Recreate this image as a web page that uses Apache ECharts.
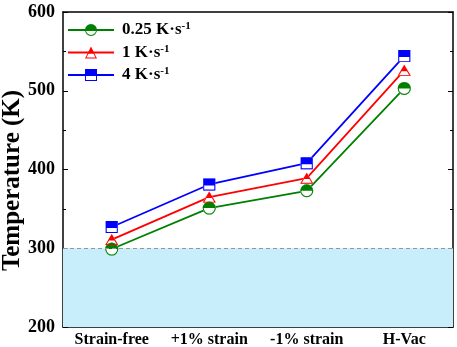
<!DOCTYPE html>
<html>
<head>
<meta charset="utf-8">
<script src="https://cdn.jsdelivr.net/npm/echarts@6/dist/echarts.min.js"></script>
<style>
  html, body { margin: 0; padding: 0; background: #fff; }
  #chart { width: 457px; height: 347px; }
</style>
</head>
<body>
<div id="chart"></div>
<script>
var categories = ['Strain-free', '+1% strain', '-1% strain', 'H-Vac'];
var seriesNames = ['0.25 K·s', '1 K·s', '4 K·s'];
var tempSlow = [299, 351, 373, 503];
var tempMid = [311, 365, 389, 526];
var tempFast = [327, 381, 408, 544];
var yTicks = [200, 300, 400, 500, 600];
var shadeRange = [200, 300];

var colors = ['#008000', '#ff0000', '#0000ff'];

// half filled symbols: top half solid, bottom half as an outline
var halfCircle = 'path://M0,10 A10,10 0 0 1 20,10 Z M20,10 A10,10 0 0 1 0,10 L1.6,10 A8.4,8.4 0 0 0 18.4,10 Z';
var halfTriangle = 'path://M10,0 L15,10 L5,10 Z M5,10 L15,10 L20,20 L0,20 Z M5.9,11.6 L2.5,18.4 L17.5,18.4 L14.1,11.6 Z';
var halfSquare = 'path://M0,0 L20,0 L20,10 L0,10 Z M0,10 L20,10 L20,20 L0,20 Z M1.6,11.6 L1.6,18.4 L18.4,18.4 L18.4,11.6 Z';
var halfSymbols = [halfCircle, halfTriangle, halfSquare];
var fullSymbols = ['circle', 'path://M10,0 L20,20 L0,20 Z', 'rect'];
var symbolSizes = [[13, 13], [13, 11], [12, 12]];
var allData = [tempSlow, tempMid, tempFast];

var chart = echarts.init(document.getElementById('chart'));

var series = [];
for (var i = 0; i < 3; i++) {
  var s = {
    name: seriesNames[i],
    type: 'line',
    data: allData[i],
    symbol: halfSymbols[i],
    symbolSize: symbolSizes[i],
    itemStyle: { color: colors[i], borderWidth: 0 },
    lineStyle: { color: colors[i], width: 1.8 },
    z: 2
  };
  if (i == 0) {
    s.markArea = {
      silent: true,
      itemStyle: { color: '#c8edfb' },
      data: [[{ yAxis: shadeRange[0] }, { yAxis: shadeRange[1] }]]
    };
    s.markLine = {
      silent: true,
      symbol: 'none',
      label: { show: false },
      lineStyle: { color: '#8c9aa0', type: [4, 3], width: 1 },
      data: [{ yAxis: shadeRange[1] }]
    };
  }
  series.push(s);
}
// white fill underneath the markers
for (var i = 0; i < 3; i++) {
  series.push({
    name: 'bg' + i,
    type: 'line',
    data: allData[i],
    symbol: fullSymbols[i],
    symbolSize: symbolSizes[i],
    itemStyle: { color: '#ffffff', borderWidth: 0 },
    lineStyle: { opacity: 0 },
    silent: true,
    z: 3
  });
}
// markers on top
for (var i = 0; i < 3; i++) {
  series.push({
    name: 'mk' + i,
    type: 'line',
    data: allData[i],
    symbol: halfSymbols[i],
    symbolSize: symbolSizes[i],
    itemStyle: { color: colors[i], borderWidth: 0 },
    lineStyle: { opacity: 0 },
    silent: true,
    z: 4
  });
}

var serif = 'Liberation Serif';

chart.setOption({
  animation: false,
  grid: { left: 63, right: 4, top: 12, bottom: 20, outerBoundsMode: 'none', containLabel: false },
  legend: {
    data: seriesNames,
    orient: 'vertical',
    left: 62,
    top: 16,
    itemWidth: 46,
    itemHeight: 15,
    itemGap: 5,
    formatter: function (name) {
      return '{a|' + name + '}{sup|-1}';
    },
    textStyle: {
      padding: [0, 0, 0, 3],
      rich: {
        a: { fontFamily: serif, fontWeight: 'bold', fontSize: 17, color: '#000' },
        sup: { fontFamily: serif, fontWeight: 'bold', fontSize: 11, color: '#000', verticalAlign: 'bottom', padding: [0, 0, 7, 0] }
      }
    }
  },
  xAxis: [{
    type: 'category',
    data: categories,
    boundaryGap: true,
    axisLine: { lineStyle: { color: '#000', width: 1.5 } },
    axisTick: { inside: true, alignWithLabel: true, length: 5, lineStyle: { color: '#000' } },
    axisLabel: { interval: 0, hideOverlap: false, color: '#000', fontFamily: serif, fontWeight: 'bold', fontSize: 16, margin: 5 },
    splitLine: { show: false }
  }, {
    type: 'category',
    data: categories,
    position: 'top',
    boundaryGap: true,
    axisLine: { lineStyle: { color: '#000', width: 1.5 } },
    axisTick: { inside: true, alignWithLabel: true, length: 5, lineStyle: { color: '#000' } },
    axisLabel: { show: false },
    splitLine: { show: false }
  }],
  yAxis: [{
    type: 'value',
    min: yTicks[0],
    max: yTicks[yTicks.length - 1],
    interval: 100,
    name: 'Temperature (K)',
    nameLocation: 'middle',
    nameGap: 38,
    nameMoveOverlap: false,
    nameTextStyle: { color: '#000', fontFamily: serif, fontWeight: 'bold', fontSize: 25, padding: [0, 22, 0, 0] },
    axisLine: { show: true, lineStyle: { color: '#000', width: 1.5 } },
    axisTick: { show: true, inside: true, length: 5, lineStyle: { color: '#000' } },
    minorTick: { show: true, splitNumber: 2, length: 3, lineStyle: { color: '#000' } },
    axisLabel: { color: '#000', fontFamily: serif, fontWeight: 'bold', fontSize: 18, margin: 8 },
    splitLine: { show: false }
  }, {
    type: 'value',
    min: yTicks[0],
    max: yTicks[yTicks.length - 1],
    interval: 100,
    position: 'right',
    axisLine: { show: true, lineStyle: { color: '#000', width: 1.5 } },
    axisTick: { show: true, inside: true, length: 5, lineStyle: { color: '#000' } },
    minorTick: { show: true, splitNumber: 2, length: 3, lineStyle: { color: '#000' } },
    axisLabel: { show: false },
    splitLine: { show: false }
  }],
  series: series
});
</script>
</body>
</html>
